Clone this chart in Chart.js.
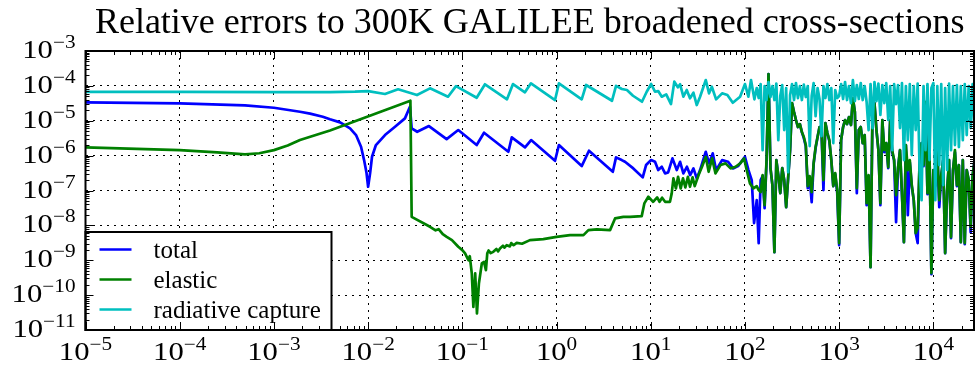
<!DOCTYPE html>
<html>
<head>
<meta charset="utf-8">
<script src="https://cdn.jsdelivr.net/npm/chart.js@4.4.0/dist/chart.umd.min.js"></script>
<style>
  html, body { margin: 0; padding: 0; background: #fff; }
  canvas { display: block; }
</style>
</head>
<body>
<canvas id="errChart" width="975" height="365"></canvas>
<script>
// incident energy (eV) and relative error, low-energy part of each reaction
const totalE = [1e-5, 1e-4, 4.93e-4, 1e-3, 1.89e-3, 2.42e-3, 3.3e-3, 3.94e-3, 5.04e-3, 6.43e-3, 7.44e-3,
  8.41e-3, 9.06e-3, 9.62e-3, 1.0e-2, 1.05e-2, 1.10e-2, 1.21e-2, 1.51e-2, 1.93e-2, 2.46e-2,
  2.78e-2, 2.90e-2, 3.32e-2, 4.42e-2, 6.81e-2, 9.05e-2, 0.142, 0.170, 0.308, 0.335,
  0.463, 0.537, 0.964, 1.06, 1.85, 2.21, 3.96, 4.28, 4.92, 5.33,
  6.53, 8.22, 8.92, 10.1, 11.1, 12.0, 13.1, 14.2, 15.3, 17.0,
  18.9, 20.5, 22.2, 24.2, 26.2, 28.4, 30.8, 33.4, 38.4, 41.6,
  45.5, 49.4, 57.2, 66.2, 74.8, 84.5, 100, 109, 118, 125];
const totalV = [3.37e-5, 3.16e-5, 2.77e-5, 2.36e-5, 1.81e-5, 1.6e-5, 1.3e-5, 1.10e-5, 9.0e-6, 6.05e-6, 3.89e-6,
  1.80e-6, 7.45e-7, 3.16e-7, 1.28e-7, 3.16e-7, 9.27e-7, 2.01e-6, 3.89e-6, 6.73e-6, 1.17e-5,
  2.52e-5, 6.05e-6, 4.83e-6, 7.05e-6, 2.98e-6, 5.41e-6, 2.01e-6, 4.52e-6, 1.29e-6, 3.34e-6,
  1.73e-6, 2.79e-6, 7.11e-7, 2.01e-6, 5.01e-7, 1.38e-6, 3.44e-7, 8.9e-7, 7.45e-7, 6.66e-7,
  4.3e-7, 2.38e-7, 5.36e-7, 7.45e-7, 6.66e-7, 3.85e-7, 4.79e-7, 3.1e-7, 3.3e-7, 8.34e-7,
  3.85e-7, 6.66e-7, 3.1e-7, 4.79e-7, 2.77e-7, 4.3e-7, 2.22e-7, 3.85e-7, 1.29e-6, 6.0e-7,
  1.16e-6, 3.85e-7, 7.45e-7, 6.66e-7, 4.3e-7, 5.01e-7, 9.27e-7, 3.85e-7, 1.99e-7, 1.16e-8];

const elasticE = [1e-5, 1e-4, 2.5e-4, 4.93e-4, 7.0e-4, 1e-3, 1.4e-3, 1.89e-3, 3.94e-3, 2.81e-2, 2.90e-2,
  4.54e-2, 5.2e-2, 5.6e-2, 6.2e-2, 6.83e-2, 7.76e-2, 9.06e-2, 0.100, 0.107, 0.116,
  0.120, 0.126, 0.131, 0.137, 0.143, 0.150, 0.161, 0.170, 0.178, 0.184,
  0.190, 0.200, 0.213, 0.230, 0.240, 0.251, 0.270, 0.280, 0.296, 0.320,
  0.330, 0.350, 0.378, 0.430, 0.522, 0.724, 1.0, 1.39, 1.93, 2.18,
  2.67, 3.70, 4.18, 5.12, 6.03, 8.02, 8.55, 9.43, 10.6, 11.7,
  12.4, 13.2, 14.2, 16.0, 16.7, 17.4, 18.5, 19.5, 20.8, 22.0,
  23.3, 24.8, 26.1, 27.8, 29.3, 32.2, 35.0, 38.4, 41.2, 44.8,
  48.7, 55.0, 62.2, 70.4, 79.6, 89.1, 97.9, 104.5, 113, 123];
const elasticV = [1.73e-6, 1.44e-6, 1.24e-6, 1.09e-6, 1.17e-6, 1.44e-6, 1.95e-6, 2.79e-6, 5.23e-6, 3.75e-5, 1.76e-8,
  9.1e-9, 7.2e-9, 7.8e-9, 5.6e-9, 4.69e-9, 3.78e-9, 2.43e-9, 1.95e-9, 1.57e-9, 1.0e-9,
  1.31e-9, 4.18e-10, 4.6e-11, 4.18e-10, 2.97e-11, 2.16e-10, 8.1e-10, 9.0e-10, 5.2e-10, 1.57e-9,
  1.9e-9, 1.6e-9, 1.74e-9, 2.1e-9, 1.8e-9, 2.18e-9, 2.6e-9, 2.3e-9, 2.71e-9, 2.5e-9,
  3.1e-9, 2.7e-9, 3.16e-9, 2.97e-9, 3.78e-9, 4.03e-9, 4.69e-9, 5.25e-9, 5.25e-9, 7.31e-9,
  7.65e-9, 7.31e-9, 1.58e-8, 1.76e-8, 1.76e-8, 1.84e-8, 4.26e-8, 6.6e-8, 4.74e-8, 6.34e-8,
  4.74e-8, 6.2e-8, 4.74e-8, 4.74e-8, 8.26e-8, 2.22e-7, 1.15e-7, 2.47e-7, 1.15e-7, 2.22e-7,
  1.23e-7, 2.47e-7, 1.28e-7, 2.38e-7, 1.34e-7, 2.77e-7, 4.79e-7, 9.27e-7, 3.44e-7, 8.34e-7,
  3.1e-7, 5.36e-7, 6.0e-7, 4.3e-7, 4.79e-7, 6.0e-7, 8.34e-7, 3.85e-7, 1.6e-7, 1.15e-7];

const captureE = [1e-5, 1e-4, 1e-3, 3.94e-3, 7.26e-3, 1.0e-2, 1.51e-2, 2.08e-2, 3.3e-2, 4.54e-2,
  7.05e-2, 8.57e-2, 0.142, 0.174, 0.298, 0.345, 0.462, 0.535, 0.964, 1.06,
  1.85, 2.06, 3.88, 4.28, 4.94, 5.59, 6.48, 8.07, 9.06, 10.1,
  11.1, 12.0, 13.1, 14.6, 16.4, 17.8, 19.4, 20.5, 22.2, 24.1,
  26.1, 28.4, 30.8, 33.4, 38.4, 41.6, 44.5, 49.4, 57.2, 65.1,
  74.3, 88.8, 100.1, 108.7, 116, 126];
const captureV = [6.7e-5, 6.7e-5, 6.6e-5, 6.6e-5, 6.8e-5, 7.1e-5, 5.84e-5, 7.96e-5, 5.46e-5, 8.5e-5,
  4.89e-5, 9.8e-5, 4.57e-5, 1.11e-4, 4.11e-5, 1.13e-4, 6.53e-5, 1.18e-4, 3.93e-5, 1.18e-4,
  4.11e-5, 1.06e-4, 3.75e-5, 1.0e-4, 8.12e-5, 7.6e-5, 5.21e-5, 3.51e-5, 6.8e-5, 1.13e-4,
  6.8e-5, 7.1e-5, 4.89e-5, 5.72e-5, 3.01e-5, 1.32e-4, 9.1e-5, 1.11e-4, 4.89e-5, 7.6e-5,
  4.4e-5, 6.36e-5, 2.82e-5, 4.89e-5, 1.47e-4, 6.11e-5, 9.45e-5, 4.11e-5, 6.11e-5, 5.46e-5,
  3.29e-5, 4.89e-5, 1.13e-4, 4.89e-5, 1.47e-4, 4.11e-5];

// resonance region, common energy grid for all three reactions
const noiseE = [133.4, 139.9, 146.8, 154.0, 161.6, 169.5, 177.8, 186.6, 195.7, 205.4,
  215.4, 226.0, 237.1, 248.8, 261.0, 273.8, 287.3, 301.4, 316.2, 331.8,
  348.1, 365.2, 383.1, 402.0, 421.7, 442.4, 464.2, 487.0, 510.9, 535.8,
  562.3, 590.0, 619.0, 649.4, 681.3, 714.7, 749.9, 786.7, 825.4, 866.0,
  908.5, 953.2, 1000, 1049, 1101, 1155, 1212, 1271, 1334, 1399,
  1468, 1540, 1616, 1695, 1778, 1866, 1957, 2054, 2154, 2260,
  2371, 2488, 2610, 2738, 2873, 3014, 3162, 3318, 3481, 3652,
  3831, 4020, 4217, 4424, 4642, 4870, 5109, 5358, 5623, 5900,
  6190, 6494, 6813, 7147, 7499, 7867, 8254, 8660, 9085, 9532,
  10000, 10490, 11010, 11550, 12120, 12710, 13340, 13990, 14680, 15400,
  16160, 16950, 17780, 18660, 19570, 20540, 21540, 22600, 23710, 24880,
  26100, 27380];
const noiseTotal = [5.3e-8, 3.1e-9, 1.99e-7, 2.59e-7, 3.13e-8, 6.53e-7, 2.19e-4, 4.4e-7, 1.43e-7, 1.71e-9,
  7.45e-7, 2.77e-7, 8.42e-8, 4.4e-7, 1.99e-7, 3.34e-8, 2.27e-7, 1.44e-6, 3.22e-5, 1.78e-5,
  1.05e-5, 6.6e-6, 8.04e-6, 4.74e-6, 3.19e-6, 1.88e-6, 1.17e-7, 2.27e-7, 4.65e-8, 5.72e-7,
  1.65e-6, 3.41e-6, 6.6e-6, 5.06e-6, 1.03e-7, 8.59e-6, 4.44e-6, 2.62e-6, 7.45e-7, 1.34e-7,
  2.96e-7, 8.99e-8, 2.71e-9, 2.79e-6, 6.6e-6, 1.05e-5, 8.04e-6, 1.28e-5, 7.53e-6, 4.48e-5,
  1.78e-5, 8.42e-8, 5.41e-6, 6.6e-6, 2.29e-6, 3.89e-6, 3.81e-8, 2.59e-7, 6.34e-10, 2.03e-5,
  3.22e-5, 5.41e-6, 1.44e-6, 3.81e-8, 1.05e-5, 1.26e-6, 2.29e-6, 4.4e-7, 1.05e-5, 1.26e-6,
  7.45e-7, 1.24e-8, 4.4e-7, 1.44e-6, 7.38e-8, 3.31e-9, 2.01e-6, 1.97e-8, 6.53e-7, 1.34e-7,
  5.3e-8, 6.0e-9, 3.1e-9, 7.45e-7, 2.29e-6, 5.01e-7, 3.44e-5, 7.88e-8, 1.44e-6, 3.99e-10,
  3.85e-7, 1.34e-7, 1.44e-6, 3.34e-8, 2.59e-7, 7.45e-7, 1.6e-9, 8.99e-8, 7.45e-7, 4.31e-9,
  3.85e-7, 1.26e-6, 1.34e-7, 5.36e-7, 3.31e-9, 7.45e-7, 2.9e-9, 3.85e-7, 1.99e-7, 6.4e-9,
  2.59e-7, 7.45e-7];
const noiseElastic = [1.34e-7, 1.03e-7, 8.99e-8, 2.77e-7, 3.81e-8, 7.45e-7, 2.19e-4, 4.4e-7, 1.43e-7, 1.71e-9,
  7.45e-7, 2.77e-7, 8.42e-8, 4.4e-7, 1.99e-7, 3.34e-8, 2.27e-7, 1.44e-6, 3.22e-5, 1.78e-5,
  1.05e-5, 6.6e-6, 8.04e-6, 4.74e-6, 3.41e-6, 2.01e-6, 1.34e-7, 2.59e-7, 8.99e-8, 6.11e-7,
  1.76e-6, 3.41e-6, 6.6e-6, 5.06e-6, 1.99e-7, 8.59e-6, 4.44e-6, 2.79e-6, 7.45e-7, 1.34e-7,
  3.16e-7, 1.03e-7, 3.1e-9, 2.79e-6, 6.6e-6, 1.05e-5, 8.04e-6, 1.28e-5, 7.53e-6, 4.48e-5,
  1.78e-5, 1.17e-7, 5.41e-6, 6.6e-6, 2.29e-6, 3.89e-6, 4.35e-8, 2.77e-7, 6.34e-10, 2.03e-5,
  3.22e-5, 5.41e-6, 1.44e-6, 4.35e-8, 1.05e-5, 1.44e-6, 2.29e-6, 4.69e-7, 1.05e-5, 1.44e-6,
  7.45e-7, 7.38e-8, 4.4e-7, 1.44e-6, 8.42e-8, 3.31e-9, 2.01e-6, 3.85e-7, 7.45e-7, 1.43e-7,
  5.3e-8, 6.0e-9, 8.34e-9, 7.45e-7, 2.29e-6, 5.36e-7, 3.44e-5, 8.42e-8, 1.44e-6, 4.27e-10,
  3.85e-7, 1.43e-7, 1.44e-6, 5.3e-8, 2.77e-7, 7.45e-7, 1.6e-9, 1.03e-7, 7.45e-7, 4.6e-9,
  3.85e-7, 1.44e-6, 1.43e-7, 5.36e-7, 3.31e-9, 7.45e-7, 3.1e-9, 3.85e-7, 1.99e-7, 8.91e-9,
  2.77e-7, 7.45e-7];
const noiseCapture = [8.67e-5, 4.48e-5, 1.13e-4, 1.44e-6, 9.9e-5, 3.93e-5, 1.29e-4, 4.79e-5, 9.9e-5, 3.93e-5,
  1.17e-4, 2.79e-6, 5.12e-5, 1.06e-4, 5.41e-6, 8.67e-5, 3.37e-7, 5.46e-5, 1.13e-4, 3.93e-5,
  1.21e-4, 4.48e-5, 9.9e-5, 3.93e-5, 1.08e-4, 4.79e-5, 9.9e-5, 1.88e-6, 5.12e-5, 1.2e-4,
  1.36e-5, 8.67e-5, 4.2e-5, 3.64e-6, 9.9e-5, 4.48e-5, 1.13e-4, 3.93e-5, 8.67e-5, 2.29e-6,
  7.6e-5, 4.48e-5, 5.12e-5, 1.13e-4, 4.2e-5, 1.29e-4, 3.93e-5, 9.9e-5, 3.22e-5, 1.47e-4,
  3.67e-5, 1.06e-4, 4.2e-5, 1.21e-4, 3.93e-5, 9.9e-5, 3.44e-5, 5.41e-6, 1.13e-4, 6.18e-6,
  1.29e-4, 3.67e-5, 1.17e-4, 1.46e-5, 1.06e-4, 3.22e-5, 1.21e-4, 1.05e-5, 9.9e-5, 1.44e-6,
  1.13e-4, 3.01e-5, 1.06e-4, 6.18e-6, 1.21e-4, 7.45e-7, 9.9e-5, 2.79e-6, 1.13e-4, 1.04e-6,
  9.9e-5, 5.41e-6, 1.17e-4, 3.85e-7, 5.3e-8, 9.9e-5, 1.44e-6, 1.13e-4, 7.45e-7, 8.67e-5,
  1.2e-4, 5.3e-8, 9.9e-5, 5.36e-7, 1.13e-4, 1.43e-7, 8.67e-5, 3.85e-7, 1.17e-4, 1.44e-6,
  9.9e-5, 2.01e-6, 1.06e-4, 1.76e-6, 9.9e-5, 2.79e-6, 1.13e-4, 3.89e-6, 9.9e-5, 6.18e-6,
  1.13e-4, 5.41e-6];

// axis decades (exponents) and minor tick mantissas
const xTickExps = [-5, -4, -3, -2, -1, 0, 1, 2, 3, 4];
const yTickExps = [-11, -10, -9, -8, -7, -6, -5, -4, -3];
const minorMantissas = [2, 3, 4, 5, 6, 7, 8, 9];

const seriesLabels = ['total', 'elastic', 'radiative capture'];
const seriesColors = ['#0000ff', '#008000', '#00bfbf'];
const titleText = 'Relative errors to 300K GALILEE broadened cross-sections';

const SERIF = '"Liberation Serif", "DejaVu Serif", serif';

function toPoints(es, vs) {
  return es.map((e, i) => ({ x: e, y: vs[i] }));
}

function isDecade(v) {
  const l = Math.log10(v);
  return Math.abs(l - Math.round(l)) < 1e-6;
}

// "10" with a raised exponent, slightly widened like the TeX digits
function drawPow(ctx, exp, x, y, align, size) {
  const base = '10';
  const sup = exp < 0 ? '\u2212' + Math.abs(exp) : String(exp);
  const supSize = Math.round(size * 0.7);
  const sx = 1.18;
  ctx.save();
  ctx.font = size + 'px ' + SERIF;
  const wb = ctx.measureText(base).width;
  ctx.font = supSize + 'px ' + SERIF;
  const ws = ctx.measureText(sup).width;
  const w = (wb + ws) * sx;
  const left = align === 'center' ? x - w / 2 : x - w;
  ctx.translate(left, y);
  ctx.scale(sx, 1);
  ctx.fillStyle = '#000';
  ctx.textAlign = 'left';
  ctx.textBaseline = 'alphabetic';
  ctx.font = size + 'px ' + SERIF;
  ctx.fillText(base, 0, 0);
  ctx.font = supSize + 'px ' + SERIF;
  ctx.fillText(sup, wb, -size * 0.38);
  ctx.restore();
}

// legend box, inward ticks on all four sides, frame, labels and title
const axisDecor = {
  id: 'axisDecor',
  afterDatasetsDraw(chart) {
    const { ctx, chartArea: a, scales: { x, y } } = chart;
    ctx.save();

    const lw = 246, lh = 98;
    const lx = a.left, ly = a.bottom - lh;
    ctx.fillStyle = '#fff';
    ctx.fillRect(lx, ly, lw, lh);
    ctx.lineWidth = 2;
    ctx.strokeStyle = '#000';
    ctx.strokeRect(lx, ly, lw, lh);
    ctx.font = '25px ' + SERIF;
    ctx.textAlign = 'left';
    ctx.textBaseline = 'alphabetic';
    chart.data.datasets.forEach((ds, i) => {
      const rowY = ly + 17.5 + i * 30;
      ctx.strokeStyle = ds.borderColor;
      ctx.lineWidth = ds.borderWidth;
      ctx.beginPath();
      ctx.moveTo(lx + 14, rowY);
      ctx.lineTo(lx + 46, rowY);
      ctx.stroke();
      ctx.fillStyle = '#000';
      ctx.fillText(ds.label, lx + 68, rowY + 8);
    });

    ctx.strokeStyle = '#000';
    ctx.lineWidth = 1;
    ctx.beginPath();
    xTickExps.forEach(e => {
      [1, ...minorMantissas].forEach(m => {
        const v = m * Math.pow(10, e);
        if (v > x.max * 1.0001) return;
        const px = Math.round(x.getPixelForValue(v)) + 0.5;
        const len = m === 1 ? 8 : 4;
        ctx.moveTo(px, a.bottom); ctx.lineTo(px, a.bottom - len);
        ctx.moveTo(px, a.top); ctx.lineTo(px, a.top + len);
      });
    });
    yTickExps.forEach(e => {
      [1, ...minorMantissas].forEach(m => {
        const v = m * Math.pow(10, e);
        if (v > y.max * 1.0001) return;
        const py = Math.round(y.getPixelForValue(v)) + 0.5;
        const len = m === 1 ? 8 : 4;
        ctx.moveTo(a.left, py); ctx.lineTo(a.left + len, py);
        ctx.moveTo(a.right, py); ctx.lineTo(a.right - len, py);
      });
    });
    ctx.stroke();

    ctx.lineWidth = 2;
    ctx.strokeRect(a.left, a.top, a.right - a.left, a.bottom - a.top);
    ctx.restore();
  },
  afterDraw(chart) {
    const { ctx, chartArea: a, scales: { x, y } } = chart;
    xTickExps.forEach(e => drawPow(ctx, e, x.getPixelForValue(Math.pow(10, e)), 360, 'center', 26));
    yTickExps.forEach(e => drawPow(ctx, e, a.left - 10, y.getPixelForValue(Math.pow(10, e)) + 7, 'right', 26));

    ctx.save();
    ctx.fillStyle = '#000';
    ctx.font = '36px ' + SERIF;
    ctx.textAlign = 'center';
    ctx.textBaseline = 'alphabetic';
    ctx.fillText(titleText, (a.left + a.right) / 2, 33);
    ctx.restore();
  }
};

const logAxis = (min, max) => ({
  type: 'logarithmic',
  min: min,
  max: max,
  ticks: { display: false },
  grid: { color: '#000', lineWidth: 1, drawTicks: false },
  border: { display: false, dash: [2, 5] },
  afterBuildTicks: axis => {
    axis.ticks = axis.ticks.filter(t => isDecade(t.value));
  }
});

const datasets = [
  toPoints(totalE, totalV).concat(toPoints(noiseE, noiseTotal)),
  toPoints(elasticE, elasticV).concat(toPoints(noiseE, noiseElastic)),
  toPoints(captureE, captureV).concat(toPoints(noiseE, noiseCapture))
].map((pts, i) => ({
  label: seriesLabels[i],
  data: pts,
  borderColor: seriesColors[i],
  backgroundColor: seriesColors[i],
  borderWidth: 2.7,
  borderJoinStyle: 'round',
  pointRadius: 0,
  tension: 0,
  fill: false,
  order: 3 - i
}));

new Chart(document.getElementById('errChart').getContext('2d'), {
  type: 'line',
  data: { datasets: datasets },
  options: {
    responsive: false,
    animation: false,
    devicePixelRatio: 1,
    layout: { padding: { left: 85.5, right: 1, top: 51, bottom: 35 } },
    plugins: {
      legend: { display: false },
      tooltip: { enabled: false },
      title: { display: false }
    },
    scales: {
      x: logAxis(1e-5, 2.7e4),
      y: logAxis(1e-11, 1e-3)
    }
  },
  plugins: [axisDecor]
});
</script>
</body>
</html>
